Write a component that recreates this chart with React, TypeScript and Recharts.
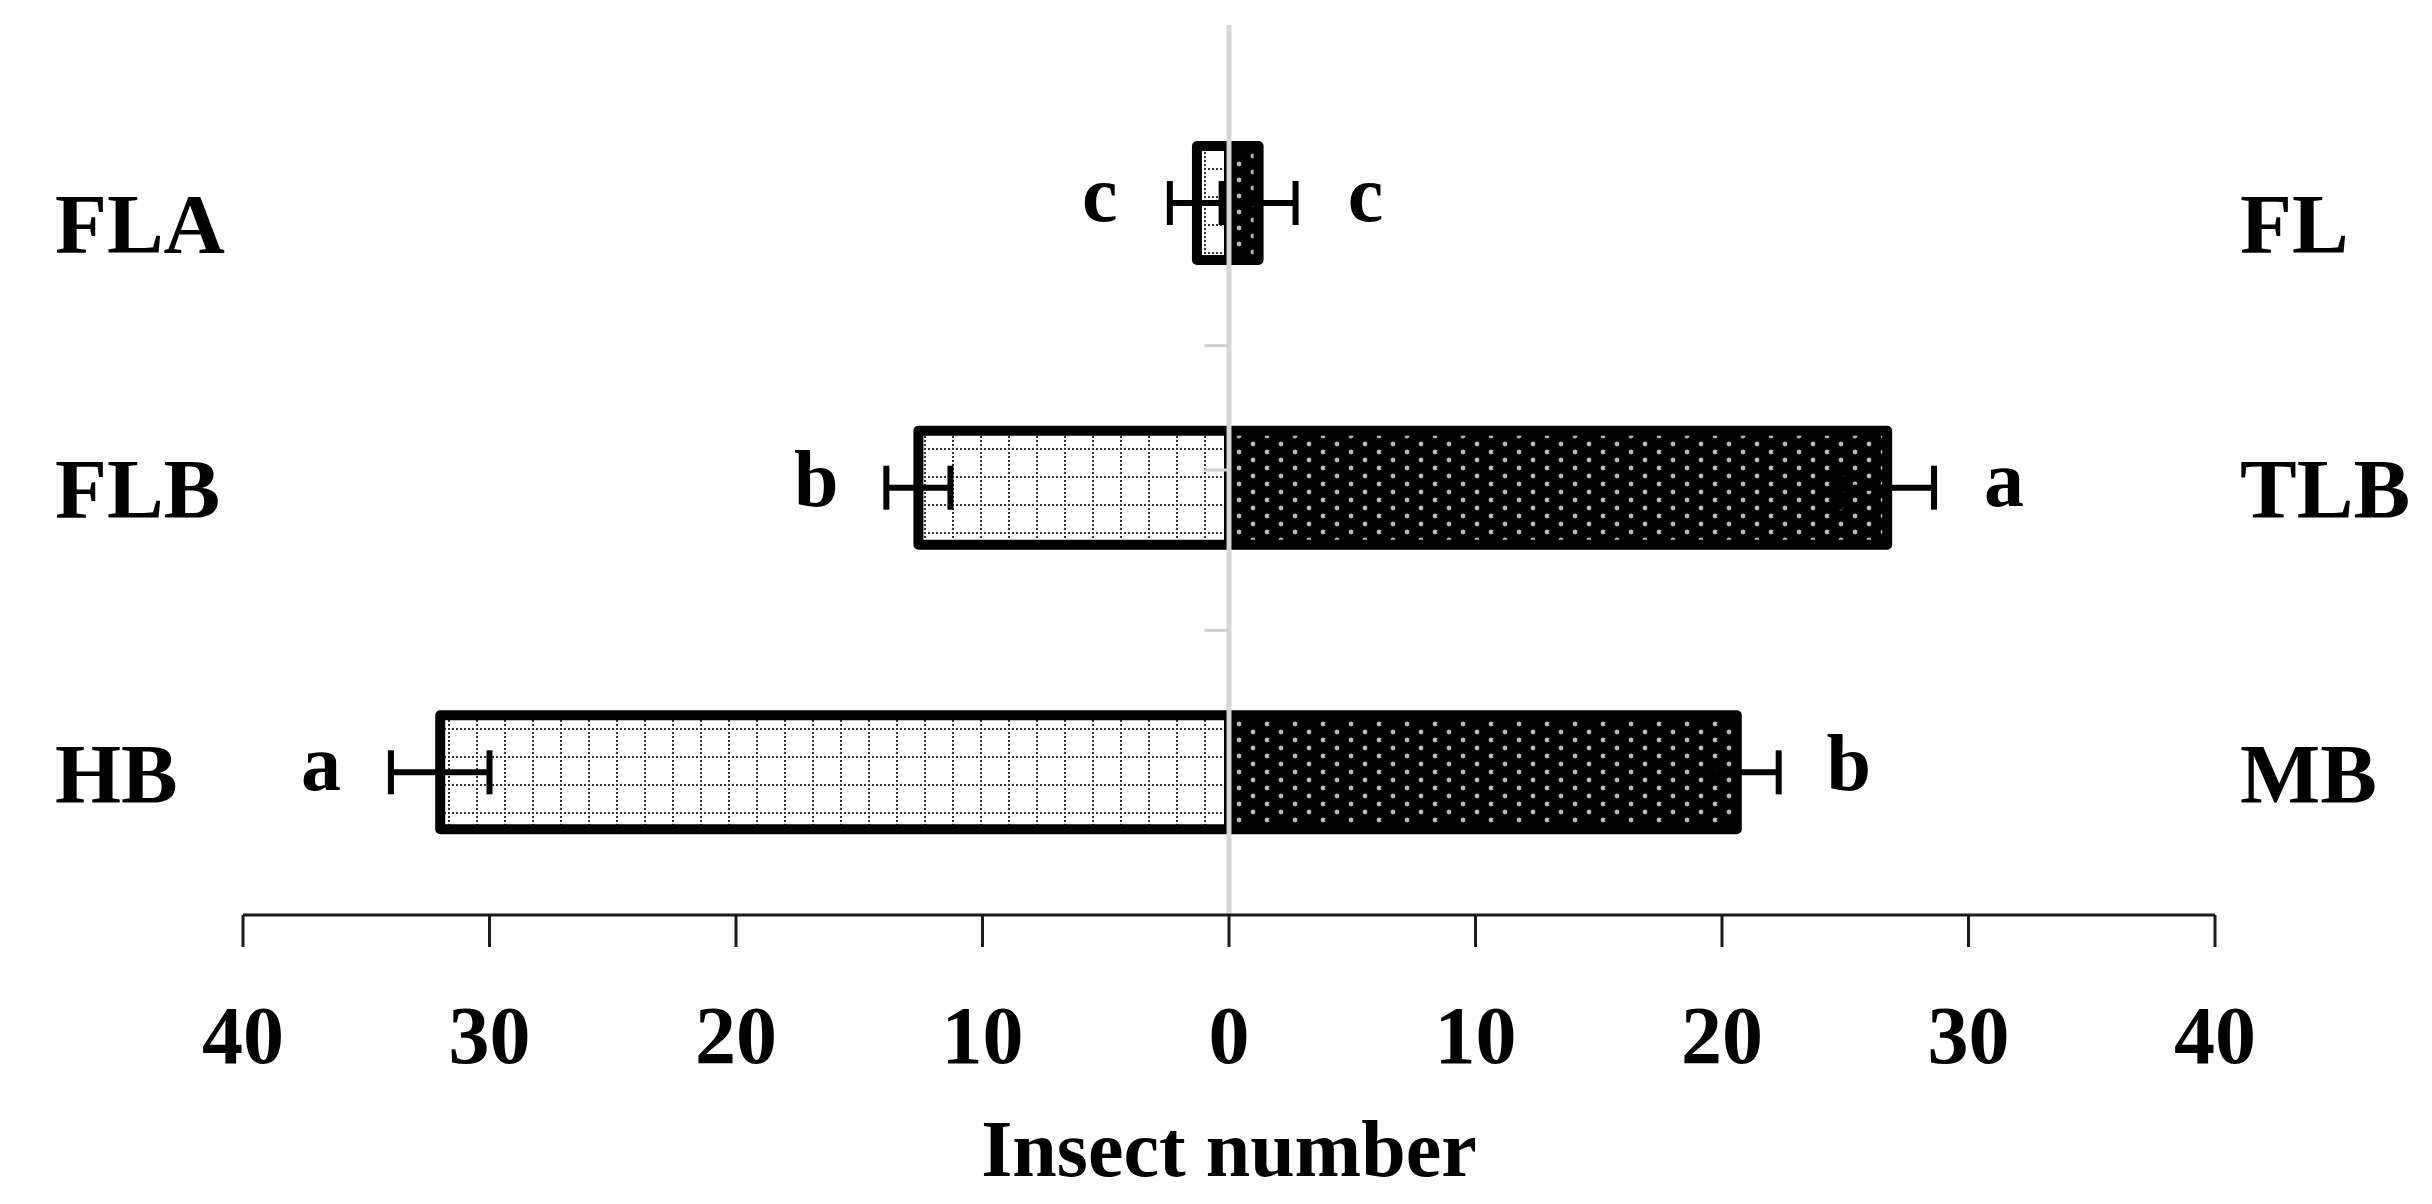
import React from 'react';
import {
  BarChart,
  Bar,
  XAxis,
  YAxis,
  ReferenceLine,
  ErrorBar,
  LabelList,
} from 'recharts';

// left side (drawn towards negative x) and right side treatments, top to bottom
const leftNames = ['FLA', 'FLB', 'HB'];
const rightNames = ['FL', 'TLB', 'MB'];
const leftMeans = [1.3, 12.6, 32];
const leftErrors = [1.1, 1.3, 2.0];
const rightMeans = [1.2, 26.7, 20.6];
const rightErrors = [1.5, 1.9, 1.7];
const leftLetters = ['c', 'b', 'a'];
const rightLetters = ['c', 'a', 'b'];
const xTicks = [-40, -30, -20, -10, 0, 10, 20, 30, 40];

const data = leftNames.map((name, i) => ({
  name,
  rightName: rightNames[i],
  left: -leftMeans[i],
  leftErr: leftErrors[i],
  right: rightMeans[i],
  rightErr: rightErrors[i],
}));

const FONT = '"Liberation Serif", "Times New Roman", serif';

const letterLabel =
  (letters: string[], means: number[], errs: number[], side: number) =>
  (props: any) => {
    const vb = props.viewBox && props.viewBox.width !== undefined ? props.viewBox : props;
    const { x, y, width, height } = vb;
    const i = props.index;
    if (i === undefined || means[i] === undefined) return null;
    const a = Number(x);
    const b = Number(x) + Number(width);
    const ppu = Math.abs(Number(width)) / means[i];
    const end = side < 0 ? Math.min(a, b) : Math.max(a, b);
    const cx = end + side * (errs[i] * ppu + 70);
    return (
      <text
        x={cx}
        y={Number(y) + Number(height) / 2 + 18}
        textAnchor="middle"
        fontFamily={FONT}
        fontWeight="bold"
        fontSize={80}
        fill="#000"
      >
        {letters[i]}
      </text>
    );
  };

// treatment names; the top pair sits a little low in the original
const NameTick = (props: any) => {
  const { x, y, payload, index } = props;
  const nudge = index === 0 ? 20 : 0;
  return (
    <text
      x={x}
      y={y + 30 + nudge}
      textAnchor="start"
      fontFamily={FONT}
      fontWeight="bold"
      fontSize={85}
      fill="#000"
    >
      {payload.value}
    </text>
  );
};

export default function App() {
  return (
    <div style={{ position: 'absolute', left: 0, top: 0, background: '#fff' }}>
      <BarChart
        width={2432}
        height={1204}
        data={data}
        layout="vertical"
        stackOffset="sign"
        margin={{ top: 25, right: 0, bottom: 0, left: 0 }}
      >
        <defs>
          <pattern id="gridPat" patternUnits="userSpaceOnUse" width={28} height={28}>
            <rect x={0} y={0} width={28} height={28} fill="#fff" />
            <line x1={1} y1={0} x2={1} y2={28} stroke="#333" strokeWidth={2} strokeDasharray="2 2" />
            <line x1={0} y1={1} x2={28} y2={1} stroke="#333" strokeWidth={2} strokeDasharray="2 2" />
          </pattern>
          <pattern id="dotPat" patternUnits="userSpaceOnUse" width={28} height={16}>
            <rect x={0} y={0} width={28} height={16} fill="#000" />
            <circle cx={7} cy={4} r={2.4} fill="#b8b8b8" />
            <circle cx={21} cy={12} r={2.4} fill="#b8b8b8" />
          </pattern>
        </defs>
        <XAxis
          type="number"
          domain={[-40, 40]}
          ticks={xTicks}
          tickFormatter={(v: number) => String(Math.abs(v))}
          height={289}
          axisLine={{ stroke: '#1a1a1a', strokeWidth: 3 }}
          tickLine={{ stroke: '#1a1a1a', strokeWidth: 3 }}
          tickSize={32}
          tickMargin={58}
          tick={{ fontFamily: FONT, fontWeight: 'bold', fontSize: 82, fill: '#000' }}
          label={{
            value: 'Insect number',
            position: 'insideBottom',
            offset: 28,
            fontFamily: FONT,
            fontWeight: 'bold',
            fontSize: 80,
            fill: '#000',
          }}
        />
        <YAxis
          yAxisId="cat"
          type="category"
          dataKey="name"
          width={243}
          padding={{ top: 36, bottom: 0 }}
          axisLine={false}
          tickLine={false}
          tickSize={0}
          tickMargin={188}
          tick={<NameTick />}
        />
        <YAxis
          yAxisId="catR"
          orientation="right"
          type="category"
          dataKey="rightName"
          width={217}
          padding={{ top: 36, bottom: 0 }}
          axisLine={false}
          tickLine={false}
          tickSize={0}
          tickMargin={25}
          tick={<NameTick />}
        />
        <YAxis yAxisId="edge" type="number" domain={[0, 1]} hide />
        <Bar
          yAxisId="cat"
          dataKey="left"
          stackId="s"
          barSize={114}
          fill="url(#gridPat)"
          stroke="#000"
          strokeWidth={10}
          strokeLinejoin="round"
          isAnimationActive={false}
        >
          <ErrorBar dataKey="leftErr" direction="x" width={22} stroke="#000" strokeWidth={6} />
          <LabelList content={letterLabel(leftLetters, leftMeans, leftErrors, -1)} />
        </Bar>
        <Bar
          yAxisId="cat"
          dataKey="right"
          stackId="s"
          barSize={114}
          fill="url(#dotPat)"
          stroke="#000"
          strokeWidth={10}
          strokeLinejoin="round"
          isAnimationActive={false}
        >
          <ErrorBar dataKey="rightErr" direction="x" width={22} stroke="#000" strokeWidth={6} />
          <LabelList content={letterLabel(rightLetters, rightMeans, rightErrors, 1)} />
        </Bar>
        <ReferenceLine yAxisId="cat" x={0} stroke="#d6d6d6" strokeWidth={5} />
        <ReferenceLine
          yAxisId="edge"
          segment={[{ x: -1, y: 1 }, { x: 0, y: 1 }]}
          stroke="#cfcfcf"
          strokeWidth={3}
        />
        {leftNames.slice(1).map((n) => (
          <ReferenceLine
            key={n}
            yAxisId="cat"
            position="start"
            segment={[{ x: -1, y: n }, { x: 0, y: n }]}
            stroke="#cfcfcf"
            strokeWidth={3}
          />
        ))}
      </BarChart>
    </div>
  );
}
